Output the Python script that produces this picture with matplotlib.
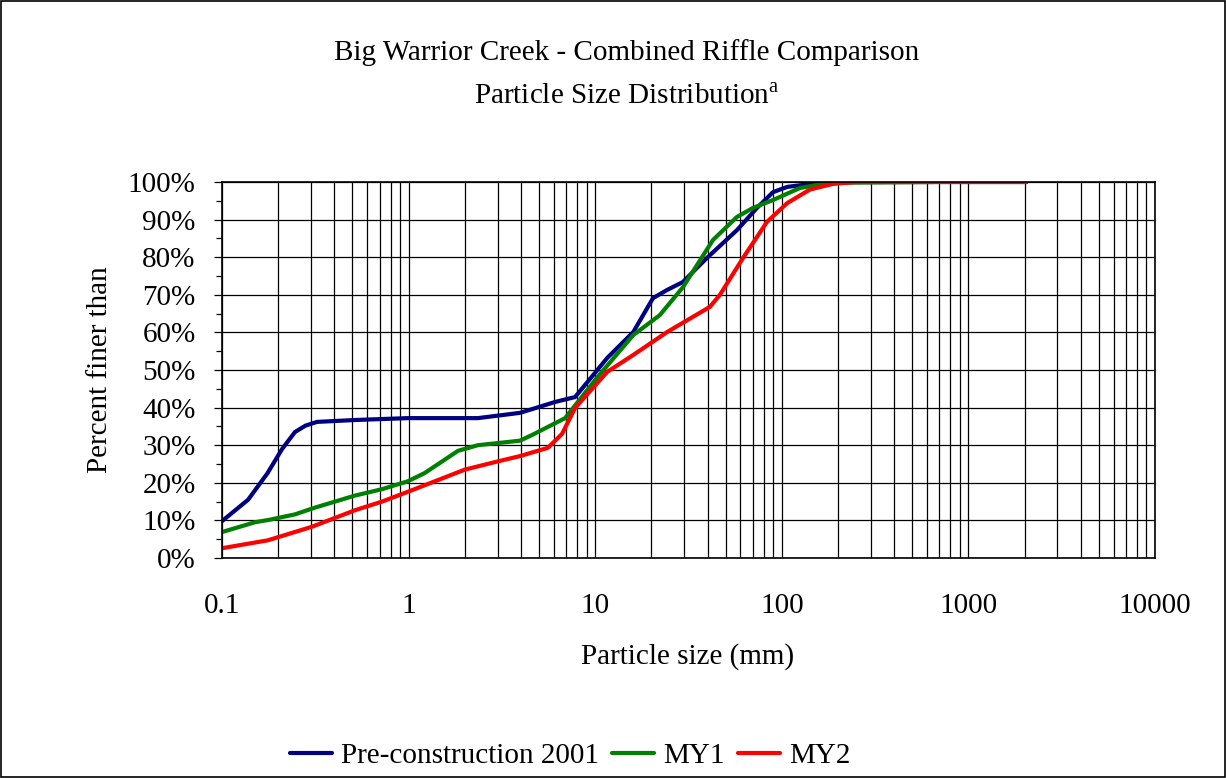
import matplotlib
matplotlib.use("Agg")
import matplotlib.pyplot as plt
from matplotlib.ticker import FixedLocator, FuncFormatter, MultipleLocator
import numpy as np

plt.rcParams['font.family'] = ['Liberation Serif', 'DejaVu Serif']
plt.rcParams['mathtext.fontset'] = 'custom'
plt.rcParams['mathtext.rm'] = 'Liberation Serif'

# particle size (mm) vs percent finer
pre_size = [0.1, 0.138, 0.175, 0.21, 0.246, 0.28, 0.323, 0.516, 0.99, 2.35, 3.95, 6.1, 7.8,
            11.6, 16.0, 20.4, 24.3, 29.5, 39.7, 57.5, 73.6, 89.7, 107, 155, 205, 2048]
pre_pct = [9.8, 15.5, 22.5, 29, 33.5, 35.2, 36.2, 36.7, 37.2, 37.2, 38.6, 41.5, 42.8,
           53.2, 60.1, 69.1, 71.3, 73.4, 79.8, 87.2, 93.1, 97.3, 98.7, 99.7, 100, 100]

my1_size = [0.1, 0.15, 0.181, 0.246, 0.315, 0.516, 0.72, 0.99, 1.22, 1.84, 2.35, 3.95,
            4.58, 6.9, 10.2, 16.0, 22.2, 29.5, 42.8, 57.5, 70, 89.7, 125, 181, 646]
my1_pct = [6.9, 9.5, 10.2, 11.6, 13.4, 16.6, 18.3, 20.4, 22.6, 28.5, 30.0, 31.2,
           32.7, 37.2, 47.9, 59.3, 64.6, 72.0, 84.6, 90.7, 93.1, 95.2, 98.4, 99.8, 100]

my2_size = [0.1, 0.176, 0.303, 0.516, 0.72, 0.99, 2.0, 3.01, 3.95, 5.58, 6.64, 7.8,
            11.6, 16.0, 24.3, 41.2, 46.6, 62, 83.3, 107, 141.6, 188, 250, 2048]
my2_pct = [2.6, 4.7, 8.3, 12.7, 15.0, 17.6, 23.5, 25.7, 27.1, 29.3, 33.0, 39.9,
           49.5, 54.0, 60.1, 66.8, 70.0, 79.8, 89.4, 94.4, 98.0, 99.5, 100, 100]

series = [
    ('Pre-construction 2001', pre_size, pre_pct, '#000080'),
    ('MY1', my1_size, my1_pct, '#008000'),
    ('MY2', my2_size, my2_pct, '#ff0000'),
]

fig = plt.figure(figsize=(12.26, 7.78), dpi=100)
ax = fig.add_axes([222/1226, 1 - 558/778, (1155 - 222)/1226, (558 - 182)/778])

for name, xs, ys, col in series:
    ax.plot(xs, ys, color=col, lw=3, label=name, solid_capstyle='round',
            solid_joinstyle='round')

ax.set_xscale('log')
ax.set_xlim(0.1, 10000)
ax.set_ylim(0, 100)

decades = [0.1, 1, 10, 100, 1000, 10000]
ax.xaxis.set_major_locator(FixedLocator(decades))
ax.xaxis.set_major_formatter(FuncFormatter(lambda v, p: '%g' % v))
minors = [d * k for d in decades[:-1] for k in range(2, 10)]
ax.xaxis.set_minor_locator(FixedLocator(minors))
ax.xaxis.set_minor_formatter(FuncFormatter(lambda v, p: ''))

ax.yaxis.set_major_locator(MultipleLocator(10))
ax.yaxis.set_minor_locator(MultipleLocator(5))
ax.yaxis.set_major_formatter(FuncFormatter(lambda v, p: '%d%%' % v))

ax.grid(True, which='major', axis='both', color='black', lw=0.9)
ax.grid(True, which='minor', axis='x', color='black', lw=0.9)
ax.set_axisbelow(True)

ax.tick_params(axis='x', which='both', length=0, pad=25, labelsize=21)
ax.tick_params(axis='y', which='major', length=6, width=0.9, direction='out', pad=13, labelsize=21)
ax.tick_params(axis='y', which='minor', length=4, width=0.9, direction='out')
for s in ax.spines.values():
    s.set_color('black')
    s.set_linewidth(1.2)

fig.text(0.511, 1 - 53/778, 'Big Warrior Creek - Combined Riffle Comparison',
         ha='center', va='center', fontsize=21)
fig.text(0.511, 1 - 97/778, r'Particle Size Distribution$^{\mathrm{a}}$',
         ha='center', va='center', fontsize=21)
fig.text(100/1226, 1 - 370/778, 'Percent finer than', rotation=90,
         ha='center', va='center', fontsize=21)
fig.text(688/1226, 1 - 657/778, 'Particle size (mm)', ha='center', va='center', fontsize=21)

fig.legend(loc='center', bbox_to_anchor=(570/1226, 1 - 756/778), ncol=3, frameon=False,
           fontsize=21, handlelength=1.45, handletextpad=0.3, columnspacing=0.45)

# outer frame
fig.patches.append(plt.Rectangle((0.0008, 0.0013), 0.9984, 0.9974, transform=fig.transFigure,
                                 fill=False, edgecolor='black', lw=1.2))

fig.savefig('out.png', dpi=100)
